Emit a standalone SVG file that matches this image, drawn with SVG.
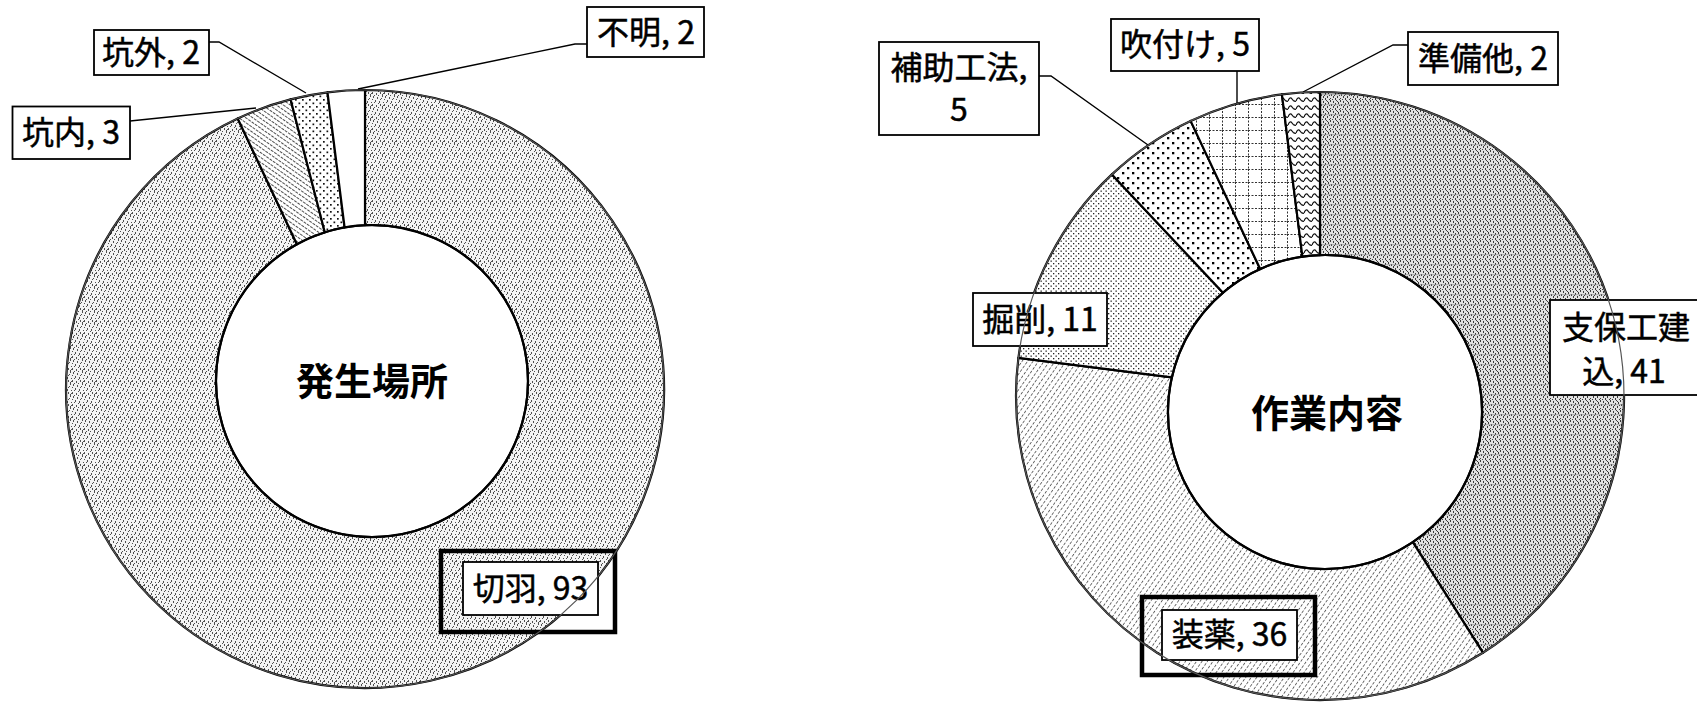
<svg xmlns="http://www.w3.org/2000/svg" width="1697" height="702" viewBox="0 0 1697 702">
<style>
.lbl{font-family:'Noto Sans CJK JP','Noto Sans',sans-serif;font-size:32px;fill:#000;stroke:#000;stroke-width:0.5;text-anchor:middle}
.ttl{font-family:'Noto Sans CJK JP','Noto Sans',sans-serif;font-size:38px;font-weight:bold;fill:#000;text-anchor:middle}
.box{fill:#fff;stroke:#000;stroke-width:1.8}
.hl{fill:none;stroke:#000;stroke-width:4.5}
.slice{stroke:#000;stroke-width:2.2;stroke-linejoin:round}
.hole{fill:none;stroke:#000;stroke-width:2.2}
.lead{fill:none;stroke:#000;stroke-width:1.4}
.over{fill:none;stroke:#555;stroke-width:1.2}
</style>
<defs>
<pattern id="pKiriha" width="12" height="12" patternUnits="userSpaceOnUse">
<rect width="12" height="12" fill="#f4f4f4"/>
<g fill="#505050">
<rect x="1" y="0" width="1" height="2"/><rect x="5" y="1" width="1" height="2"/><rect x="9" y="2" width="1" height="1"/>
<rect x="3" y="4" width="1" height="2"/><rect x="7" y="5" width="1" height="2"/><rect x="11" y="6" width="1" height="1"/>
<rect x="0" y="8" width="1" height="2"/><rect x="4" y="9" width="1" height="2"/><rect x="8" y="8" width="1" height="2"/>
<rect x="2" y="11" width="1" height="1"/><rect x="6" y="11" width="1" height="1"/><rect x="10" y="10" width="1" height="2"/>
<rect x="10" y="0" width="1" height="1"/><rect x="6" y="7" width="1" height="1"/><rect x="2" y="6" width="1" height="1"/>
<rect x="8" y="3" width="1" height="1"/><rect x="0" y="3" width="1" height="1"/><rect x="11" y="9" width="1" height="1"/>
</g>
</pattern>
<pattern id="pKonai" width="4" height="4" patternUnits="userSpaceOnUse" patternTransform="rotate(-55)">
<rect width="4" height="4" fill="#fff"/>
<line x1="0" y1="0" x2="0" y2="4" stroke="#222" stroke-width="1.6" stroke-dasharray="3 1"/>
</pattern>
<pattern id="pKogai" width="7" height="7" patternUnits="userSpaceOnUse">
<rect width="7" height="7" fill="#fff"/>
<rect x="1" y="1" width="1.7" height="1.7" fill="#111"/>
<rect x="4.5" y="4.5" width="1.7" height="1.7" fill="#111"/>
</pattern>
<pattern id="pShiho" width="10" height="10" patternUnits="userSpaceOnUse">
<rect width="10" height="10" fill="#e2e2e2"/>
<g fill="#3a3a3a">
<rect x="0" y="0" width="1" height="2"/><rect x="3" y="1" width="1" height="2"/><rect x="6" y="0" width="1" height="1"/><rect x="8" y="2" width="1" height="2"/>
<rect x="1" y="4" width="1" height="2"/><rect x="5" y="3" width="1" height="2"/><rect x="9" y="5" width="1" height="1"/>
<rect x="3" y="6" width="1" height="2"/><rect x="7" y="6" width="1" height="2"/><rect x="0" y="8" width="1" height="1"/>
<rect x="5" y="8" width="1" height="2"/><rect x="9" y="9" width="1" height="1"/><rect x="2" y="9" width="1" height="1"/>
<rect x="7" y="1" width="1" height="1"/><rect x="4" y="5" width="1" height="1"/>
</g>
<rect x="0" y="4.5" width="10" height="0.6" fill="#888"/>
</pattern>
<pattern id="pSoyaku" width="4.5" height="4.5" patternUnits="userSpaceOnUse" patternTransform="rotate(35)">
<rect width="4.5" height="4.5" fill="#fff"/>
<line x1="0" y1="0" x2="0" y2="4.5" stroke="#333" stroke-width="1.4" stroke-dasharray="3 1.5"/>
</pattern>
<pattern id="pKussaku" width="5" height="5" patternUnits="userSpaceOnUse">
<rect width="5" height="5" fill="#fff"/>
<rect x="0.5" y="0.5" width="1.3" height="1.3" fill="#222"/>
<rect x="3" y="3" width="1.3" height="1.3" fill="#222"/>
</pattern>
<pattern id="pHojo" width="10" height="10" patternUnits="userSpaceOnUse">
<rect width="10" height="10" fill="#fff"/>
<rect x="2" y="2" width="2.3" height="2.3" fill="#000"/>
<rect x="7" y="7" width="2.3" height="2.3" fill="#000"/>
</pattern>
<pattern id="pFuki" width="13" height="13" patternUnits="userSpaceOnUse">
<rect width="13" height="13" fill="#fff"/>
<path d="M0,0.5 H13 M0.5,0 V13" stroke="#333" stroke-width="1" stroke-dasharray="2 1.5"/>
</pattern>
<pattern id="pJunbi" width="8" height="8" patternUnits="userSpaceOnUse">
<rect width="8" height="8" fill="#fff"/>
<path d="M0,5 Q2,0 4,3 T8,5" fill="none" stroke="#111" stroke-width="1.3"/>
</pattern>
</defs>

<rect width="1697" height="702" fill="#fff"/>

<g id="chart-left">
<g id="slice-kiriha"><path class="slice" fill="url(#pKiriha)" d="M365,90 A299,299 0 1,1 237.7,118.5 L296.9,244.3 A156,156 0 1,0 365,225.2 Z"/></g>
<g id="slice-konai"><path class="slice" fill="url(#pKonai)" d="M237.7,118.5 A299,299 0 0,1 290.6,99.4 L324.8,232.3 A156,156 0 0,0 296.9,244.3 Z"/></g>
<g id="slice-kogai"><path class="slice" fill="url(#pKogai)" d="M290.6,99.4 A299,299 0 0,1 327.5,92.4 L344.6,227.4 A156,156 0 0,0 324.8,232.3 Z"/></g>
<g id="slice-fumei"><path class="slice" fill="#fff" d="M327.5,92.4 A299,299 0 0,1 365,90 L365,225.2 A156,156 0 0,0 344.6,227.4 Z"/></g>
<g id="center-left"><text class="ttl" x="372" y="395">発生場所</text></g>
</g>

<g id="chart-right">
<g id="slice-shiho"><path class="slice" fill="url(#pShiho)" d="M1320,92 A304,304 0 0,1 1482.9,652.7 L1412.8,542.2 A157,157 0 0,0 1320,255.1 Z"/></g>
<g id="slice-soyaku"><path class="slice" fill="url(#pSoyaku)" d="M1482.9,652.7 A304,304 0 0,1 1018.4,357.9 L1171.9,377.3 A157,157 0 0,0 1412.8,542.2 Z"/></g>
<g id="slice-kussaku"><path class="slice" fill="url(#pKussaku)" d="M1018.4,357.9 A304,304 0 0,1 1111.9,174.4 L1223,292.7 A157,157 0 0,0 1171.9,377.3 Z"/></g>
<g id="slice-hojo"><path class="slice" fill="url(#pHojo)" d="M1111.9,174.4 A304,304 0 0,1 1190.6,120.9 L1260.2,269 A157,157 0 0,0 1223,292.7 Z"/></g>
<g id="slice-fuki"><path class="slice" fill="url(#pFuki)" d="M1190.6,120.9 A304,304 0 0,1 1281.9,94.4 L1302.4,256.6 A157,157 0 0,0 1260.2,269 Z"/></g>
<g id="slice-junbi"><path class="slice" fill="url(#pJunbi)" d="M1281.9,94.4 A304,304 0 0,1 1320,92 L1320,255.1 A157,157 0 0,0 1302.4,256.6 Z"/></g>
<g id="center-right"><text class="ttl" x="1327" y="427">作業内容</text></g>
</g>

<g id="connectors">
<polyline class="lead" points="587,44 575,44 358,89"/>
<polyline class="lead" points="209,42 219,42 306,93"/>
<polyline class="lead" points="130,121 256,108"/>
<polyline class="lead" points="1039,76 1051,76 1148,145"/>
<polyline class="lead" points="1237,71 1237,104"/>
<polyline class="lead" points="1408,45 1393,45 1303,92"/>
</g>

<g id="label-fumei"><rect class="box" x="587" y="7" width="117" height="50"/><text class="lbl" x="646" y="44">不明, 2</text></g>
<g id="label-kogai"><rect class="box" x="94" y="30" width="115" height="45"/><text class="lbl" x="151" y="64">坑外, 2</text></g>
<g id="label-konai"><rect class="box" x="12.5" y="106.5" width="117.5" height="52.5"/><text class="lbl" x="71" y="144">坑内, 3</text></g>
<g id="label-kiriha"><rect class="hl" x="441" y="551" width="174" height="81"/><rect class="box" x="463" y="562" width="135" height="53"/><text class="lbl" x="530.5" y="600">切羽, 93</text></g>

<g id="label-hojo"><rect class="box" x="879" y="42" width="160" height="93"/><text class="lbl" x="959" y="79">補助工法,</text><text class="lbl" x="959" y="121">5</text></g>
<g id="label-fuki"><rect class="box" x="1111" y="19" width="148" height="52"/><text class="lbl" x="1185" y="56">吹付け, 5</text></g>
<g id="label-junbi"><rect class="box" x="1408" y="32" width="150" height="53"/><text class="lbl" x="1483" y="70">準備他, 2</text></g>
<g id="label-kussaku"><rect class="box" x="973" y="293" width="134" height="53"/><text class="lbl" x="1040" y="331">掘削, 11</text></g>
<g id="label-shiho"><rect class="box" x="1550" y="300" width="152" height="95"/><text class="lbl" x="1626" y="339">支保工建</text><text class="lbl" x="1624" y="383">込, 41</text></g>
<g id="label-soyaku"><rect class="hl" x="1142" y="597" width="173" height="78"/><rect class="box" x="1162" y="610" width="135" height="50"/><text class="lbl" x="1229.5" y="646">装薬, 36</text></g>

<g id="ring-overlay">
<circle class="over" cx="365" cy="389" r="299"/>
<circle class="over" cx="1320" cy="396" r="304"/>
</g>
<g id="holes">
<circle class="hole" cx="372" cy="381" r="156"/>
<circle class="hole" cx="1325" cy="412" r="157"/>
</g>
</svg>
